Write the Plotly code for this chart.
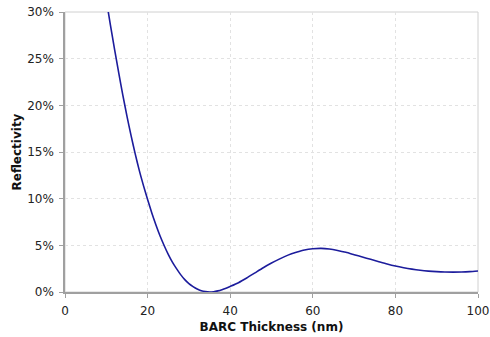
import plotly.graph_objects as go

thickness_nm = [10.0, 11.0, 12.0, 13.0, 14.0, 15.0, 16.0, 17.0, 18.0, 19.0, 20.0,
                21.0, 22.0, 23.0, 24.0, 25.0, 26.0, 27.0, 28.0, 29.0, 30.0,
                31.0, 32.0, 33.0, 34.0, 35.0, 36.0, 37.0, 38.0, 39.0, 40.0,
                42.0, 44.0, 46.0, 48.0, 50.0, 52.0, 54.0, 56.0, 58.0, 60.0,
                62.0, 64.0, 66.0, 68.0, 70.0, 72.0, 74.0, 76.0, 78.0, 80.0,
                82.0, 84.0, 86.0, 88.0, 90.0, 92.0, 94.0, 96.0, 98.0, 100.0]
reflectivity_pct = [31.3, 28.6, 26.0, 23.5, 21.1, 18.85, 16.75, 14.8, 13.0, 11.4, 9.9,
                    8.5, 7.2, 6.02, 4.98, 4.03, 3.2, 2.5, 1.86, 1.33, 0.9,
                    0.58, 0.32, 0.14, 0.04, 0.0, 0.03, 0.12, 0.25, 0.41, 0.6,
                    1.0, 1.5, 2.05, 2.6, 3.1, 3.55, 3.95, 4.25, 4.5, 4.63,
                    4.67, 4.6, 4.45, 4.25, 4.0, 3.75, 3.5, 3.25, 3.0, 2.78,
                    2.6, 2.45, 2.33, 2.24, 2.18, 2.14, 2.13, 2.14, 2.18, 2.25]

x_ticks = [0, 20, 40, 60, 80, 100]
y_ticks = [0, 5, 10, 15, 20, 25, 30]

fig = go.Figure()
fig.add_trace(go.Scatter(
    x=thickness_nm, y=reflectivity_pct, mode="lines",
    line=dict(color="#1c1c9c", width=1.6, shape="spline", smoothing=0.6),
    showlegend=False, hoverinfo="skip"))

font_family = "DejaVu Sans, Verdana, sans-serif"
fig.update_layout(
    width=490, height=337,
    margin=dict(l=65, r=12, t=12, b=45, autoexpand=False),
    paper_bgcolor="white", plot_bgcolor="white",
    font=dict(family=font_family, size=12, color="#222"),
    shapes=[dict(type="rect", xref="paper", yref="paper", x0=0, y0=0, x1=1, y1=1,
                 line=dict(color="#d0d0d0", width=1), layer="below")],
)
fig.update_xaxes(
    range=[0, 100], tickvals=x_ticks, ticktext=[str(v) for v in x_ticks],
    showgrid=True, gridcolor="#e2e2e2", griddash="dot", gridwidth=1,
    showline=True, linecolor="#a0a0a0", linewidth=1.5,
    ticks="outside", ticklen=4, tickcolor="#a0a0a0", ticklabelstandoff=3,
    zeroline=False, automargin=False,
    title=dict(text="<b>BARC Thickness (nm)</b>", font=dict(size=12, color="#111"), standoff=5),
)
fig.update_yaxes(
    range=[0, 30], tickvals=y_ticks, ticktext=[f"{v}%" for v in y_ticks],
    showgrid=True, gridcolor="#e2e2e2", griddash="dot", gridwidth=1,
    showline=True, linecolor="#a0a0a0", linewidth=1.5,
    ticks="outside", ticklen=4, tickcolor="#a0a0a0", ticklabelstandoff=3,
    zeroline=False, automargin=False,
    title=dict(text="<b>Reflectivity</b>", font=dict(size=12, color="#111"), standoff=3),
)

fig.write_html("out.html", config={"displayModeBar": False},
               post_script="document.body.style.margin='0px';document.body.style.overflow='hidden';")
